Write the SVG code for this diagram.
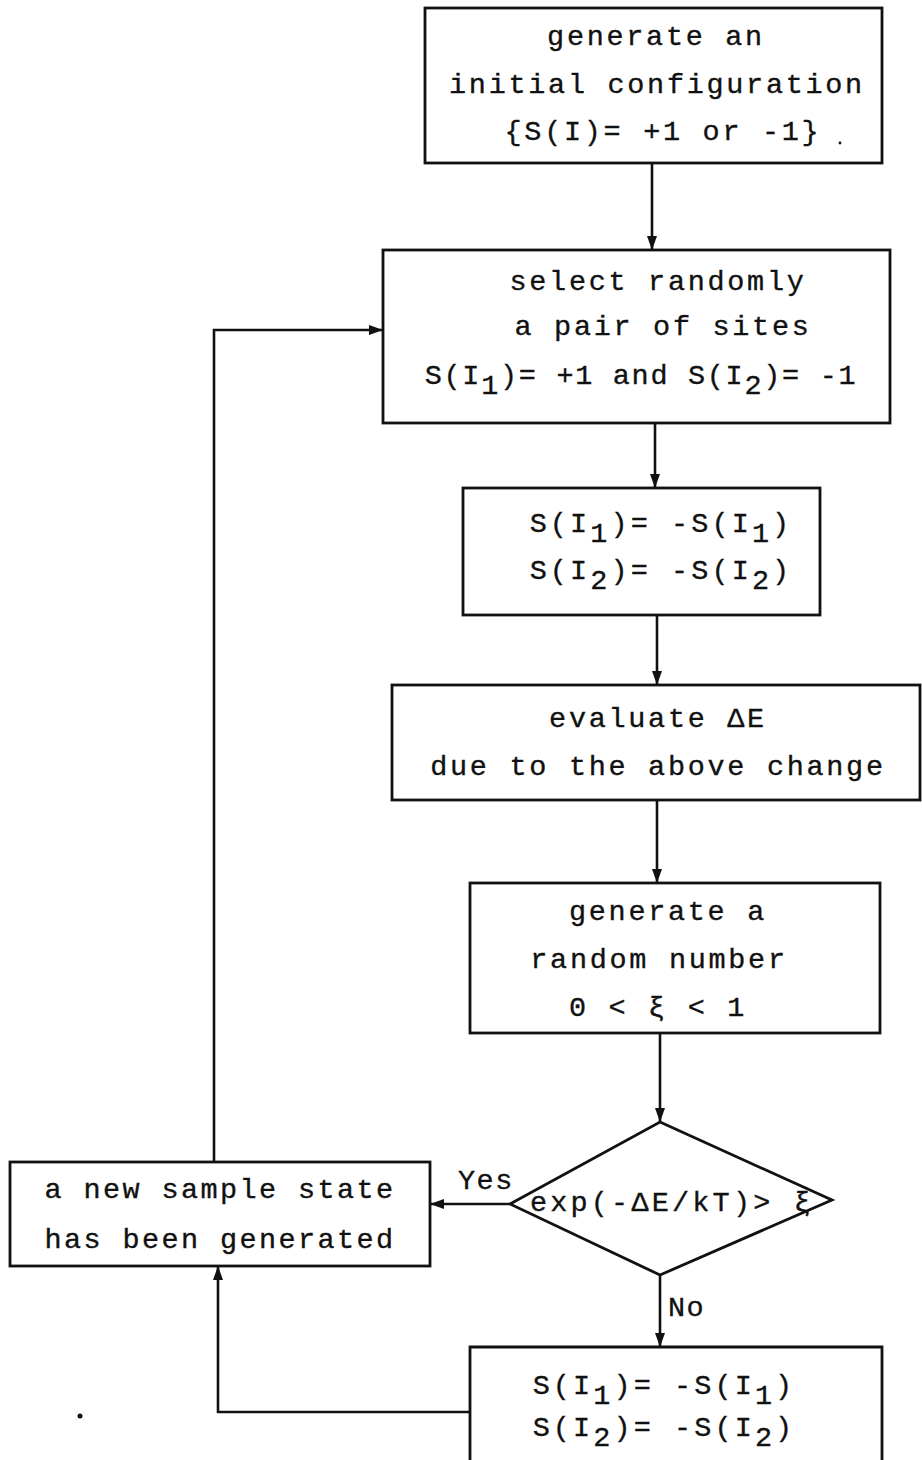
<svg xmlns="http://www.w3.org/2000/svg" width="922" height="1460" viewBox="0 0 922 1460">
  <style>
    .box { fill: #fff; stroke: #111; stroke-width: 2.8; }
    .wire { fill: none; stroke: #111; stroke-width: 2.6; }
    .t { font-family: "Liberation Mono", "DejaVu Sans Mono", monospace; font-size: 28.5px; letter-spacing: 2.7px; fill: #111; stroke: #111; stroke-width: 0.35; text-anchor: middle; }
    .c { letter-spacing: 1.7px; }
    .w { letter-spacing: 3.1px; }
    .n { letter-spacing: 2.4px; }
    .lbl { text-anchor: start; letter-spacing: 1.5px; }
  </style>
  <defs>
    <marker id="arrow" viewBox="0 0 14 10" refX="14" refY="5" markerWidth="14" markerHeight="10" markerUnits="userSpaceOnUse" orient="auto">
      <path d="M0,0 L14,5 L0,10 Z" fill="#111"/>
    </marker>
  </defs>
  <rect width="922" height="1460" fill="#fff"/>

  <!-- connectors -->
  <g id="connectors">
    <line class="wire" x1="652" y1="163" x2="652" y2="250" marker-end="url(#arrow)"/>
    <line class="wire" x1="655" y1="423" x2="655" y2="488" marker-end="url(#arrow)"/>
    <line class="wire" x1="657" y1="615" x2="657" y2="685" marker-end="url(#arrow)"/>
    <line class="wire" x1="657" y1="800" x2="657" y2="883" marker-end="url(#arrow)"/>
    <line class="wire" x1="660" y1="1033" x2="660" y2="1122" marker-end="url(#arrow)"/>
    <line class="wire" x1="510" y1="1204" x2="430" y2="1204" marker-end="url(#arrow)"/>
    <line class="wire" x1="660" y1="1275" x2="660" y2="1347" marker-end="url(#arrow)"/>
    <polyline class="wire" points="214,1162 214,330 383,330" marker-end="url(#arrow)"/>
    <polyline class="wire" points="470,1412 218,1412 218,1266" marker-end="url(#arrow)"/>
    <text class="t lbl" x="458" y="1189">Yes</text>
    <text class="t lbl" x="668" y="1316">No</text>
  </g>

  <g id="init">
    <rect class="box" x="425" y="8" width="457" height="155"/>
    <text class="t" x="656" y="45">generate an</text>
    <text class="t" x="657" y="93">initial configuration</text>
    <text class="t" x="663" y="140">{S(I)= +1 or -1}</text>
    <circle cx="840" cy="143" r="1.4" fill="#111"/>
  </g>

  <g id="select">
    <rect class="box" x="383" y="250" width="507" height="173"/>
    <text class="t" x="658" y="290">select randomly</text>
    <text class="t" x="663" y="335">a pair of sites</text>
    <text class="t c" x="641" y="384">S(I<tspan dy="10">1</tspan><tspan dy="-10">)= +1 and S(I</tspan><tspan dy="10">2</tspan><tspan dy="-10">)= -1</tspan></text>
  </g>

  <g id="flip">
    <rect class="box" x="463" y="488" width="357" height="127"/>
    <text class="t w" x="661" y="532">S(I<tspan dy="10">1</tspan><tspan dy="-10">)= -S(I</tspan><tspan dy="10">1</tspan><tspan dy="-10">)</tspan></text>
    <text class="t w" x="661" y="579">S(I<tspan dy="10">2</tspan><tspan dy="-10">)= -S(I</tspan><tspan dy="10">2</tspan><tspan dy="-10">)</tspan></text>
  </g>

  <g id="evaluate">
    <rect class="box" x="392" y="685" width="528" height="115"/>
    <text class="t" x="658" y="727">evaluate ΔE</text>
    <text class="t" x="658" y="775">due to the above change</text>
  </g>

  <g id="random">
    <rect class="box" x="470" y="883" width="410" height="150"/>
    <text class="t" x="668" y="920">generate a</text>
    <text class="t" x="659" y="968">random number</text>
    <text class="t" x="658" y="1016">0 &lt; ξ &lt; 1</text>
  </g>

  <g id="test">
    <polygon class="box" points="660,1122 832,1200 660,1275 510,1204"/>
    <text class="t" x="672" y="1211" style="letter-spacing:3.2px">exp(-ΔE/kT)&gt; ξ</text>
  </g>

  <g id="accept">
    <rect class="box" x="10" y="1162" width="420" height="104"/>
    <text class="t n" x="220" y="1198">a new sample state</text>
    <text class="t n" x="220" y="1248">has been generated</text>
  </g>

  <g id="restore">
    <polyline class="box" points="470,1470 470,1347 882,1347 882,1470"/>
    <text class="t w" x="664" y="1394">S(I<tspan dy="10">1</tspan><tspan dy="-10">)= -S(I</tspan><tspan dy="10">1</tspan><tspan dy="-10">)</tspan></text>
    <text class="t w" x="664" y="1436">S(I<tspan dy="10">2</tspan><tspan dy="-10">)= -S(I</tspan><tspan dy="10">2</tspan><tspan dy="-10">)</tspan></text>
  </g>

  <circle cx="80" cy="1416" r="2.5" fill="#111"/>
</svg>
